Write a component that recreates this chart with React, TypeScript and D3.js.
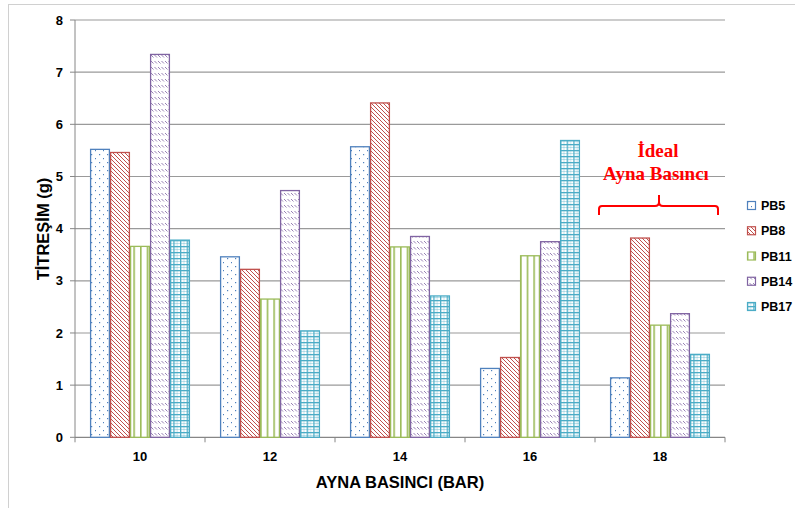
import React from "react";
import * as d3 from "d3";

const categories = ["10", "12", "14", "16", "18"];
const seriesNames = ["PB5", "PB8", "PB11", "PB14", "PB17"];
const pb5 = [5.52, 3.46, 5.57, 1.32, 1.14];
const pb8 = [5.46, 3.22, 6.41, 1.53, 3.82];
const pb11 = [3.66, 2.65, 3.65, 3.48, 2.15];
const pb14 = [7.34, 4.73, 3.85, 3.75, 2.37];
const pb17 = [3.78, 2.04, 2.71, 5.69, 1.59];
const yTicks = [0, 1, 2, 3, 4, 5, 6, 7, 8];
const colors = ["#4F81BD", "#C0504D", "#9BBB59", "#8064A2", "#4BACC6"];

const seriesValues = [pb5, pb8, pb11, pb14, pb17];

const FONT = "'Liberation Sans', Arial, sans-serif";

export default function App() {
  const left = 75;
  const right = 725;
  const top = 20;
  const bottom = 437.3;

  const x = d3
    .scaleBand<string>()
    .domain(categories)
    .range([left, right])
    .paddingInner(30 / 130)
    .paddingOuter(15 / 130);
  const xs = d3
    .scaleBand<string>()
    .domain(seriesNames)
    .range([0, x.bandwidth()])
    .padding(0);
  const y = d3.scaleLinear().domain([0, 8]).range([bottom, top]);

  const step = x.step();
  const boundaries = d3.range(categories.length + 1).map((i) => left + i * step);

  const legendY = d3
    .scalePoint<string>()
    .domain(seriesNames)
    .range([205.5, 306.5]);

  return (
    <svg
      width={795}
      height={508}
      style={{ position: "absolute", left: 0, top: 0, background: "#fff" }}
    >
      <defs>
        <pattern id="p0" width={8} height={8} patternUnits="userSpaceOnUse">
          <rect width={8} height={8} fill="#fff" />
          <rect x={3} y={2} width={1.2} height={1.2} fill={colors[0]} />
          <rect x={7} y={6} width={1.2} height={1.2} fill={colors[0]} />
        </pattern>
        <pattern id="p1" width={4} height={4} patternUnits="userSpaceOnUse">
          <rect width={4} height={4} fill="#fff" />
          <path d="M-1,-1 L5,5 M-1,3 L1,5 M3,-1 L5,1" stroke={colors[1]} strokeWidth={1} />
        </pattern>
        <pattern id="p2" width={20 / 3} height={8} patternUnits="userSpaceOnUse">
          <rect width={20 / 3} height={8} fill="#fff" />
          <rect x={0} y={0} width={1.6} height={8} fill={colors[2]} />
        </pattern>
        <pattern id="p3" width={7} height={6} patternUnits="userSpaceOnUse">
          <rect width={7} height={6} fill="#fff" />
          <path d="M0.5,1 L3,3.5 M4,1 L6.5,3.5" stroke={colors[3]} strokeWidth={1} opacity={0.8} />
        </pattern>
        <pattern id="p4" width={20 / 3} height={6} patternUnits="userSpaceOnUse">
          <rect width={20 / 3} height={6} fill="#fff" />
          <rect x={0} y={0} width={1.3} height={6} fill={colors[4]} />
          <rect x={0} y={0} width={20 / 3} height={1.3} fill={colors[4]} />
          <rect x={3.5} y={0} width={0.7} height={6} fill={colors[4]} opacity={0.5} />
          <rect x={0} y={3} width={20 / 3} height={0.7} fill={colors[4]} opacity={0.5} />
        </pattern>
      </defs>

      {/* chart frame */}
      <rect x={8.5} y={4.5} width={820} height={540} fill="none" stroke="#d0d0d0" strokeWidth={1} />

      {/* gridlines */}
      {yTicks.map((t) => (
        <line
          key={"g" + t}
          x1={left}
          x2={right}
          y1={y(t)}
          y2={y(t)}
          stroke={t === 0 ? "#868686" : "#9a9a9a"}
          strokeWidth={1.2}
        />
      ))}

      {/* y axis */}
      <line x1={left} x2={left} y1={top} y2={bottom} stroke="#868686" strokeWidth={1} />
      {yTicks.map((t) => (
        <g key={"yt" + t}>
          <line x1={left - 5} x2={left} y1={y(t)} y2={y(t)} stroke="#868686" />
          <text
            x={63}
            y={y(t)}
            dy="0.35em"
            textAnchor="end"
            fontFamily={FONT}
            fontWeight="bold"
            fontSize={13}
            fill="#000"
          >
            {t}
          </text>
        </g>
      ))}

      {/* x axis ticks */}
      {boundaries.map((b, i) => (
        <line key={"xt" + i} x1={b} x2={b} y1={bottom} y2={bottom + 5} stroke="#868686" />
      ))}
      {categories.map((c) => (
        <text
          key={"xl" + c}
          x={(x(c) as number) + x.bandwidth() / 2}
          y={461}
          textAnchor="middle"
          fontFamily={FONT}
          fontWeight="bold"
          fontSize={13}
          fill="#000"
        >
          {c}
        </text>
      ))}

      {/* bars */}
      {seriesNames.map((s, si) =>
        categories.map((c, ci) => {
          const v = seriesValues[si][ci];
          const bx = (x(c) as number) + (xs(s) as number);
          const by = y(v);
          return (
            <rect
              key={s + c}
              x={bx + 0.6}
              y={by}
              width={xs.bandwidth() - 1.2}
              height={bottom - by}
              fill={`url(#p${si})`}
              stroke={colors[si]}
              strokeWidth={1.3}
            />
          );
        })
      )}

      {/* axis titles */}
      <text
        x={400}
        y={488}
        textAnchor="middle"
        fontFamily={FONT}
        fontWeight="bold"
        fontSize={16.5}
        fill="#000"
      >
        AYNA BASINCI (BAR)
      </text>
      <text
        transform="translate(49,229) rotate(-90)"
        textAnchor="middle"
        fontFamily={FONT}
        fontWeight="bold"
        fontSize={16.5}
        fill="#000"
      >
        TİTREŞİM (g)
      </text>

      {/* legend */}
      {seriesNames.map((s, si) => (
        <g key={"lg" + s}>
          <rect
            x={747.5}
            y={(legendY(s) as number) - 4}
            width={8}
            height={8}
            fill={`url(#p${si})`}
            stroke={colors[si]}
            strokeWidth={1.2}
          />
          <text
            x={761}
            y={legendY(s) as number}
            dy="0.36em"
            fontFamily={FONT}
            fontWeight="bold"
            fontSize={12.5}
            fill="#000"
          >
            {s}
          </text>
        </g>
      ))}

      {/* annotation */}
      <text
        x={658}
        y={157}
        textAnchor="middle"
        fontFamily="'Liberation Serif', 'Times New Roman', serif"
        fontWeight="bold"
        fontSize={19}
        fill="#FF0000"
      >
        İdeal
      </text>
      <text
        x={656}
        y={180}
        textAnchor="middle"
        fontFamily="'Liberation Serif', 'Times New Roman', serif"
        fontWeight="bold"
        fontSize={19}
        fill="#FF0000"
      >
        Ayna Basıncı
      </text>
      <path
        d="M599,215 L599,209 Q599,206 602,206 L655,206 Q659,206 659,202 L659,195 M659,202 Q659,206 663,206 L715,206 Q718,206 718,209 L718,215"
        fill="none"
        stroke="#FF0000"
        strokeWidth={2}
      />
    </svg>
  );
}
